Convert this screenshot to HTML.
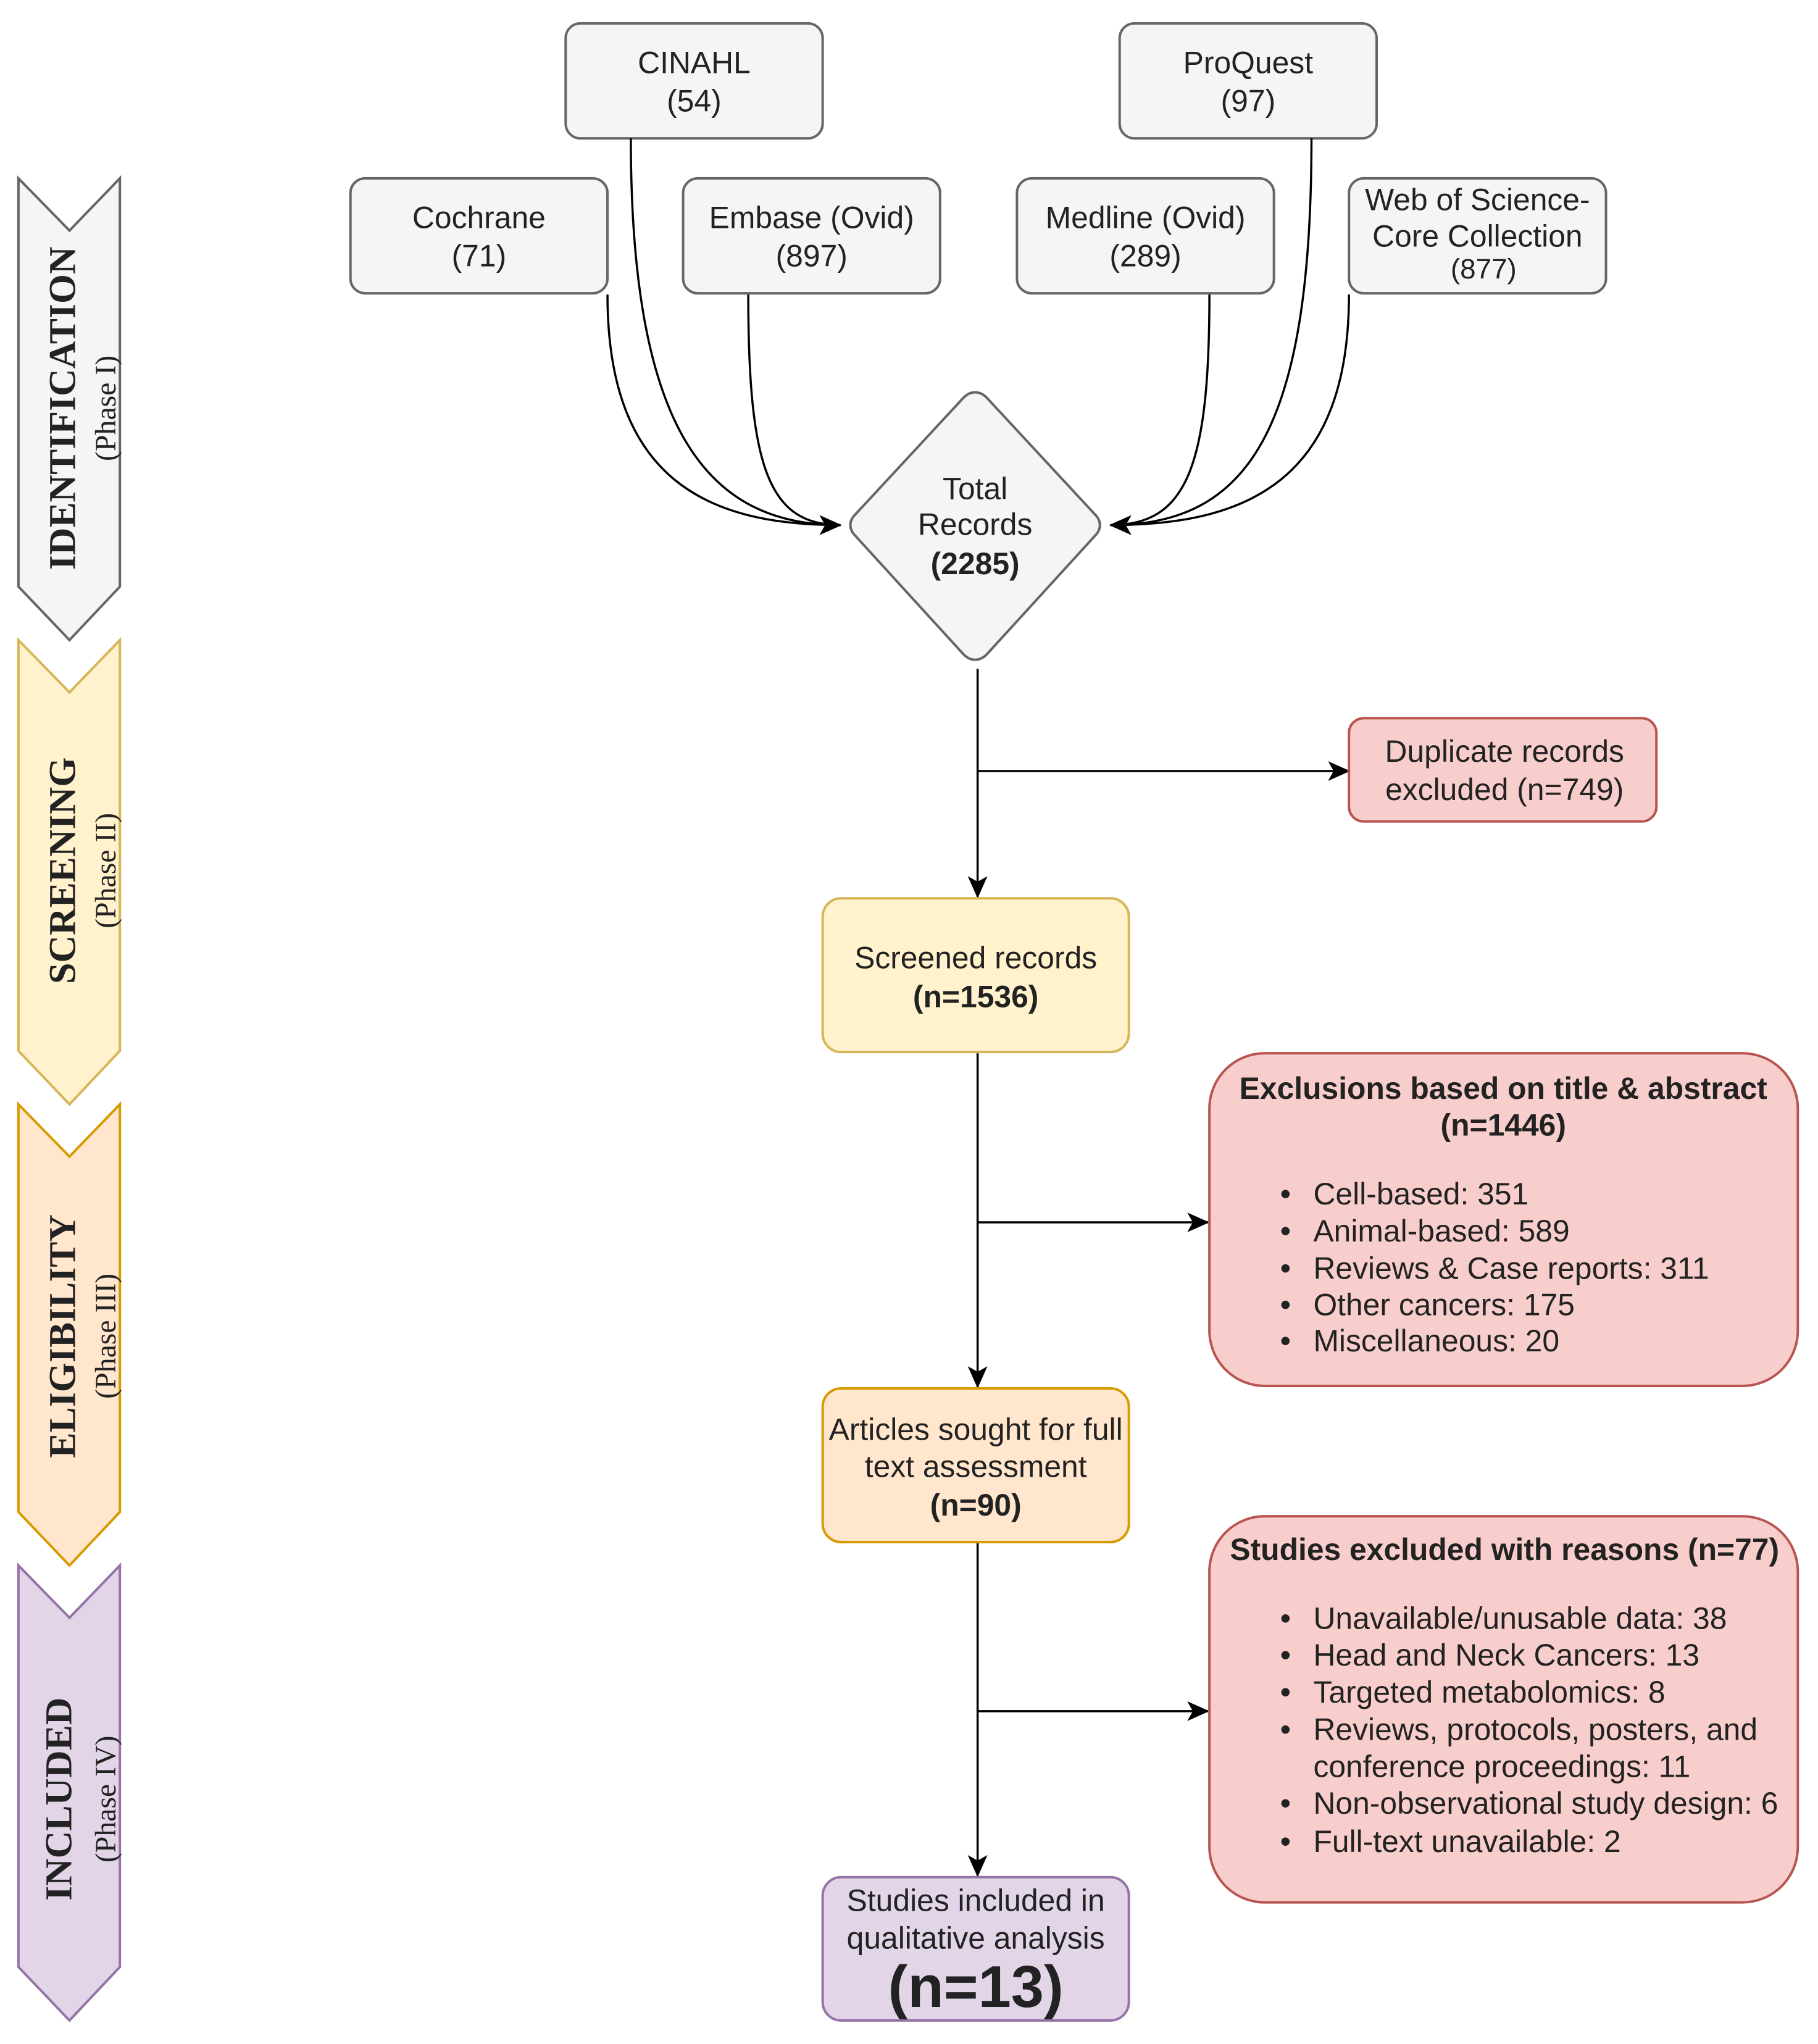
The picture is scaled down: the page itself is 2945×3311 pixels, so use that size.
<!DOCTYPE html>
<html><head><meta charset="utf-8"><style>
html,body{margin:0;padding:0;background:#fff;}
svg{display:block;}
.t{font-family:"Liberation Sans",Arial,sans-serif;font-size:50px;fill:#222;}
.b{font-weight:bold;}
.s{font-family:"Liberation Serif",serif;font-weight:bold;font-size:62px;fill:#222;}
.p{font-family:"Liberation Serif",serif;font-size:48px;fill:#222;}
</style></head><body>
<svg width="2945" height="3311" viewBox="0 0 2945 3311" xmlns="http://www.w3.org/2000/svg">
<defs>
<marker id="A" markerWidth="36" markerHeight="36" refX="34" refY="18" orient="auto" markerUnits="userSpaceOnUse"><path d="M0,2 L36,18 L0,34 L9,18 Z" fill="#000"/></marker></defs>
<g transform="scale(0.996)">
<path d="M30,290 L113,375 L195,290 L195,954 L113,1041 L30,954 Z" fill="#f5f5f5" stroke="#666" stroke-width="4"/>
<path d="M30,1041 L113,1126 L195,1041 L195,1709 L113,1796 L30,1709 Z" fill="#fff2cc" stroke="#d6b656" stroke-width="4"/>
<path d="M30,1796 L113,1881 L195,1796 L195,2459 L113,2546 L30,2459 Z" fill="#ffe6cc" stroke="#d79b00" stroke-width="4"/>
<path d="M30,2546 L113,2631 L195,2546 L195,3199 L113,3286 L30,3199 Z" fill="#e1d5e7" stroke="#9673a6" stroke-width="4"/>
<text class="s" transform="translate(122,664) rotate(-90)" text-anchor="middle">IDENTIFICATION</text>
<text class="p" transform="translate(188,664) rotate(-90)" text-anchor="middle">(Phase I)</text>
<text class="s" transform="translate(122,1416) rotate(-90)" text-anchor="middle">SCREENING</text>
<text class="p" transform="translate(188,1416) rotate(-90)" text-anchor="middle">(Phase II)</text>
<text class="s" transform="translate(122,2173) rotate(-90)" text-anchor="middle">ELIGIBILITY</text>
<text class="p" transform="translate(188,2173) rotate(-90)" text-anchor="middle">(Phase III)</text>
<text class="s" transform="translate(116,2926) rotate(-90)" text-anchor="middle">INCLUDED</text>
<text class="p" transform="translate(188,2926) rotate(-90)" text-anchor="middle">(Phase IV)</text>

<g fill="#f5f5f5" stroke="#666" stroke-width="4">
<rect x="920" y="38" width="418" height="187" rx="24"/>
<rect x="1821" y="38" width="418" height="187" rx="24"/>
<rect x="570" y="290" width="418" height="187" rx="24"/>
<rect x="1111" y="290" width="418" height="187" rx="24"/>
<rect x="1654" y="290" width="418" height="187" rx="24"/>
<rect x="2194" y="290" width="418" height="187" rx="24"/>
<path d="M1586,638 Q1597,638 1606,648 L1784,840 Q1794,854 1784,868 L1606,1063 Q1597,1073 1586,1073 Q1575,1073 1566,1063 L1388,868 Q1378,854 1388,840 L1566,648 Q1575,638 1586,638 Z"/>
</g>
<g class="t" text-anchor="middle">
<text x="1129" y="119">CINAHL</text><text x="1129" y="181">(54)</text>
<text x="2030" y="119">ProQuest</text><text x="2030" y="181">(97)</text>
<text x="779" y="371">Cochrane</text><text x="779" y="433">(71)</text>
<text x="1320" y="371">Embase (Ovid)</text><text x="1320" y="433">(897)</text>
<text x="1863" y="371">Medline (Ovid)</text><text x="1863" y="433">(289)</text>
<text x="2403" y="342">Web of Science-</text><text x="2403" y="401">Core Collection</text><text x="2413" y="453" style="font-size:46px">(877)</text>
<text x="1586" y="812">Total</text><text x="1586" y="870">Records</text><text x="1586" y="934" class="b">(2285)</text>
</g>

<g fill="none" stroke="#000" stroke-width="3.5">
<path d="M988,479 C988,780 1150,854 1367,854" marker-end="url(#A)"/>
<path d="M1026,225 C1026,700 1150,854 1367,854" marker-end="url(#A)"/>
<path d="M1217,479 C1217,760 1250,854 1367,854" marker-end="url(#A)"/>
<path d="M1967,479 C1967,760 1930,854 1806,854" marker-end="url(#A)"/>
<path d="M2133,225 C2133,700 2030,854 1806,854" marker-end="url(#A)"/>
<path d="M2194,479 C2194,780 2030,854 1806,854" marker-end="url(#A)"/>
<path d="M1590,1088 L1590,1459" marker-end="url(#A)"/>
<path d="M1590,1254 L2194,1254" marker-end="url(#A)"/>
<path d="M1590,1713 L1590,2256" marker-end="url(#A)"/>
<path d="M1590,1988 L1965,1988" marker-end="url(#A)"/>
<path d="M1590,2508 L1590,3051" marker-end="url(#A)"/>
<path d="M1590,2783 L1965,2783" marker-end="url(#A)"/>
</g>

<rect x="2194" y="1168" width="500" height="168" rx="24" fill="#f8cecc" stroke="#b85450" stroke-width="4"/>
<rect x="1338" y="1461" width="498" height="250" rx="30" fill="#fff2cc" stroke="#d6b656" stroke-width="4"/>
<rect x="1967" y="1713" width="957" height="541" rx="90" fill="#f8cecc" stroke="#b85450" stroke-width="4"/>
<rect x="1338" y="2258" width="498" height="250" rx="30" fill="#ffe6cc" stroke="#d79b00" stroke-width="4"/>
<rect x="1967" y="2466" width="957" height="628" rx="90" fill="#f8cecc" stroke="#b85450" stroke-width="4"/>
<rect x="1338" y="3053" width="498" height="233" rx="30" fill="#e1d5e7" stroke="#9673a6" stroke-width="4"/>

<g class="t" text-anchor="middle" fill="#000">
<text x="2447" y="1239">Duplicate records</text><text x="2447" y="1301">excluded (n=749)</text>
<text x="1587" y="1575">Screened records</text><text x="1587" y="1638" class="b">(n=1536)</text>
<text x="1587" y="2342">Articles sought for full</text><text x="1587" y="2402">text assessment</text><text x="1587" y="2465" class="b">(n=90)</text>
<text x="1587" y="3108">Studies included in</text><text x="1587" y="3169">qualitative analysis</text>
<text x="1587" y="3264" class="b" style="font-size:96px">(n=13)</text>
<text x="2445" y="1787" class="b">Exclusions based on title &amp; abstract</text>
<text x="2445" y="1847" class="b">(n=1446)</text>
<text x="2447" y="2537" class="b">Studies excluded with reasons (n=77)</text>
</g>
<g class="t" fill="#000">
<text x="2082" y="1959">•</text><text x="2136" y="1959">Cell-based: 351</text>
<text x="2082" y="2019">•</text><text x="2136" y="2019">Animal-based: 589</text>
<text x="2082" y="2080">•</text><text x="2136" y="2080">Reviews &amp; Case reports: 311</text>
<text x="2082" y="2139">•</text><text x="2136" y="2139">Other cancers: 175</text>
<text x="2082" y="2198">•</text><text x="2136" y="2198">Miscellaneous: 20</text>
<text x="2082" y="2649">•</text><text x="2136" y="2649">Unavailable/unusable data: 38</text>
<text x="2082" y="2709">•</text><text x="2136" y="2709">Head and Neck Cancers: 13</text>
<text x="2082" y="2769">•</text><text x="2136" y="2769">Targeted metabolomics: 8</text>
<text x="2082" y="2830">•</text><text x="2136" y="2830">Reviews, protocols, posters, and</text>
<text x="2136" y="2890">conference proceedings: 11</text>
<text x="2082" y="2950">•</text><text x="2136" y="2950">Non-observational study design: 6</text>
<text x="2082" y="3012">•</text><text x="2136" y="3012">Full-text unavailable: 2</text>
</g>
</g>
</svg>
</body></html>
